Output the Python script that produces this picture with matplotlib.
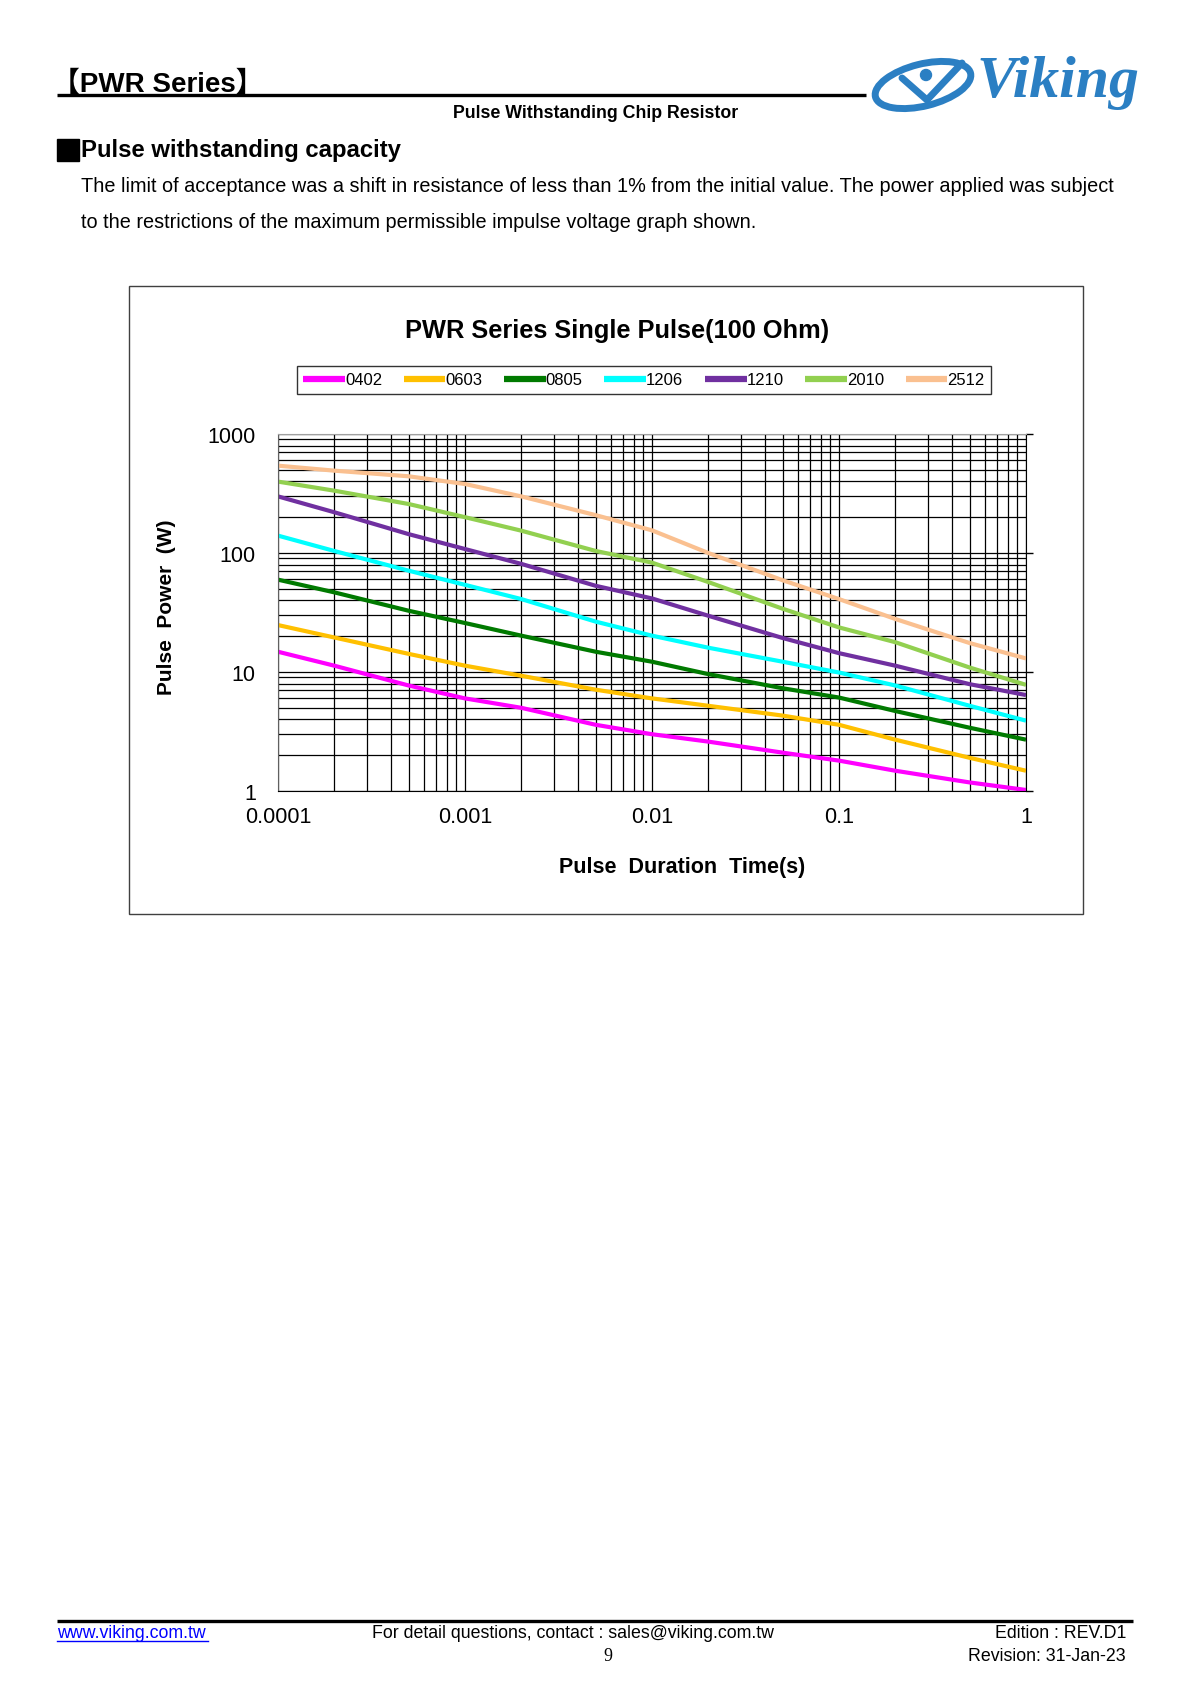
import matplotlib
matplotlib.use("Agg")
import matplotlib.pyplot as plt
import matplotlib.ticker as mticker
from matplotlib.patches import Rectangle, Ellipse, Circle

plt.rcParams['font.family'] = ['Liberation Sans', 'Noto Sans CJK SC', 'DejaVu Sans']

# pulse duration (s) and pulse power (W)
times = [1e-4, 2e-4, 5e-4, 1e-3, 2e-3, 5e-3, 1e-2, 2e-2, 5e-2, 0.1, 0.2, 0.5, 1.0]
p0402 = [14.8, 11.3, 7.7, 6.0, 5.0, 3.6, 3.0, 2.6, 2.1, 1.8, 1.48, 1.18, 1.02]
p0603 = [24.8, 19.5, 14.2, 11.3, 9.3, 7.1, 6.0, 5.2, 4.3, 3.6, 2.7, 1.9, 1.48]
p0805 = [59.7, 46.7, 32.7, 25.8, 20.2, 14.8, 12.2, 9.6, 7.3, 6.1, 4.7, 3.4, 2.7]
p1206 = [140, 104, 71, 54, 41, 26.5, 20.2, 16.0, 12.2, 9.9, 7.7, 5.2, 3.9]
p1210 = [299, 220, 144, 108, 81, 53, 41.5, 29.7, 19.3, 14.4, 11.3, 7.9, 6.4]
p2010 = [398, 334, 258, 200, 154, 104, 83, 57, 34, 23.7, 17.8, 10.9, 7.8]
p2512 = [542, 492, 441, 380, 299, 208, 155, 100, 59, 41, 27.9, 17.5, 13.0]

sizes = ['0402', '0603', '0805', '1206', '1210', '2010', '2512']
series = [p0402, p0603, p0805, p1206, p1210, p2010, p2512]
colors = ['#FF00FF', '#FFC000', '#007A00', '#00FFFF', '#7030A0', '#92D050', '#FAC090']

x_ticks = [1e-4, 1e-3, 1e-2, 1e-1, 1]
x_labels = ['0.0001', '0.001', '0.01', '0.1', '1']
y_ticks = [1, 10, 100, 1000]
y_labels = ['1', '10', '100', '1000']

W, H = 1190, 1683
fig = plt.figure(figsize=(W / 100, H / 100), dpi=100)

# page overlay in pixel coordinates
bg = fig.add_axes([0, 0, 1, 1])
bg.set_xlim(0, W)
bg.set_ylim(H, 0)
bg.axis('off')

# header
bg.text(52, 92, '【PWR Series】', fontsize=20, fontweight='bold', va='baseline',
        family=['Liberation Sans', 'Noto Sans CJK SC'])
bg.plot([57, 866], [96, 96], color='black', lw=2.4, solid_capstyle='butt')
bg.text(596, 113, 'Pulse Withstanding Chip Resistor', fontsize=12.8, fontweight='bold',
        ha='center', va='center')

# logo
blue = '#2b7fc3'
bg.add_patch(Ellipse((923, 86), 98, 42, angle=-14, fill=False, ec=blue, lw=5))
bg.plot([902, 927, 962], [79, 101, 64], color=blue, lw=5, solid_capstyle='round')
bg.add_patch(Circle((926, 76), 5.5, color=blue))
bg.text(976, 97, 'Viking', family='Liberation Serif', style='italic', fontweight='bold',
        fontsize=43, color=blue, va='baseline')

# section heading and description
bg.add_patch(Rectangle((57, 140), 22, 22, color='black'))
bg.text(81, 151, 'Pulse withstanding capacity', fontsize=17.2, fontweight='bold', va='center')
bg.text(81, 187, 'The limit of acceptance was a shift in resistance of less than 1% from the '
        'initial value. The power applied was subject', fontsize=14.3, va='center')
bg.text(81, 223, 'to the restrictions of the maximum permissible impulse voltage graph shown.',
        fontsize=14.3, va='center')

# chart frame
bg.add_patch(Rectangle((129, 287), 954, 628, fill=False, ec='#404040', lw=1))
bg.text(617, 331, 'PWR Series Single Pulse(100 Ohm)', fontsize=18.3, fontweight='bold',
        ha='center', va='center')
bg.text(166, 607, 'Pulse  Power  (W)', fontsize=15, fontweight='bold', rotation=90,
        ha='center', va='center')
bg.text(682, 868, 'Pulse  Duration  Time(s)', fontsize=15.5, fontweight='bold',
        ha='center', va='center')

# footer
bg.plot([57, 1133], [1622, 1622], color='black', lw=2.4, solid_capstyle='butt')
bg.text(57, 1634, 'www.viking.com.tw', fontsize=12.8, color='#0000FF', va='center')
bg.plot([57, 208], [1642, 1642], color='#0000FF', lw=1)
bg.text(573, 1634, 'For detail questions, contact : sales@viking.com.tw', fontsize=12.8,
        ha='center', va='center')
bg.text(608, 1657, '9', fontsize=13, family='Liberation Serif', ha='center', va='center')
bg.text(1126, 1634, 'Edition : REV.D1', fontsize=12.8, ha='right', va='center')
bg.text(1126, 1657, 'Revision: 31-Jan-23', fontsize=12.8, ha='right', va='center')

# chart axes
ax = fig.add_axes([278 / W, 1 - 792 / H, (1026 - 278) / W, (792 - 435) / H])
handles = []
for name, vals, c in zip(sizes, series, colors):
    ln, = ax.plot(times, vals, color=c, lw=3, solid_capstyle='butt', label=name)
    handles.append(ln)
ax.set_xscale('log')
ax.set_yscale('log')
ax.set_xlim(1e-4, 1)
ax.set_ylim(1, 1000)
ax.xaxis.set_major_locator(mticker.FixedLocator(x_ticks))
ax.xaxis.set_major_formatter(mticker.FixedFormatter(x_labels))
ax.yaxis.set_major_locator(mticker.FixedLocator(y_ticks))
ax.yaxis.set_major_formatter(mticker.FixedFormatter(y_labels))
ax.xaxis.set_minor_locator(mticker.LogLocator(base=10, subs=range(2, 10)))
ax.yaxis.set_minor_locator(mticker.LogLocator(base=10, subs=range(2, 10)))
ax.xaxis.set_minor_formatter(mticker.NullFormatter())
ax.yaxis.set_minor_formatter(mticker.NullFormatter())
ax.grid(True, which='both', color='black', lw=0.9)
ax.set_axisbelow(True)
ax.tick_params(axis='x', which='both', length=0, labelsize=15.5, pad=11)
ax.tick_params(axis='y', which='minor', length=0)
ax.tick_params(axis='y', which='major', left=False, right=True, direction='out',
               length=5, width=1, labelsize=15.5, pad=11)
ax.spines['top'].set_color('#a0a0a0')
ax.spines['left'].set_color('#606060')
for s in ['right', 'bottom']:
    ax.spines[s].set_color('black')

leg = fig.legend(handles, sizes, loc='center', bbox_to_anchor=(644 / W, 1 - 381 / H),
                 ncol=7, frameon=True, fancybox=False, fontsize=12, handlelength=2.5,
                 handletextpad=0.0, columnspacing=1.3, borderpad=0.4)
leg.get_frame().set_edgecolor('black')
leg.get_frame().set_linewidth(1)
for lh in leg.get_lines():
    lh.set_linewidth(4.5)

fig.savefig('out.png', dpi=100)
